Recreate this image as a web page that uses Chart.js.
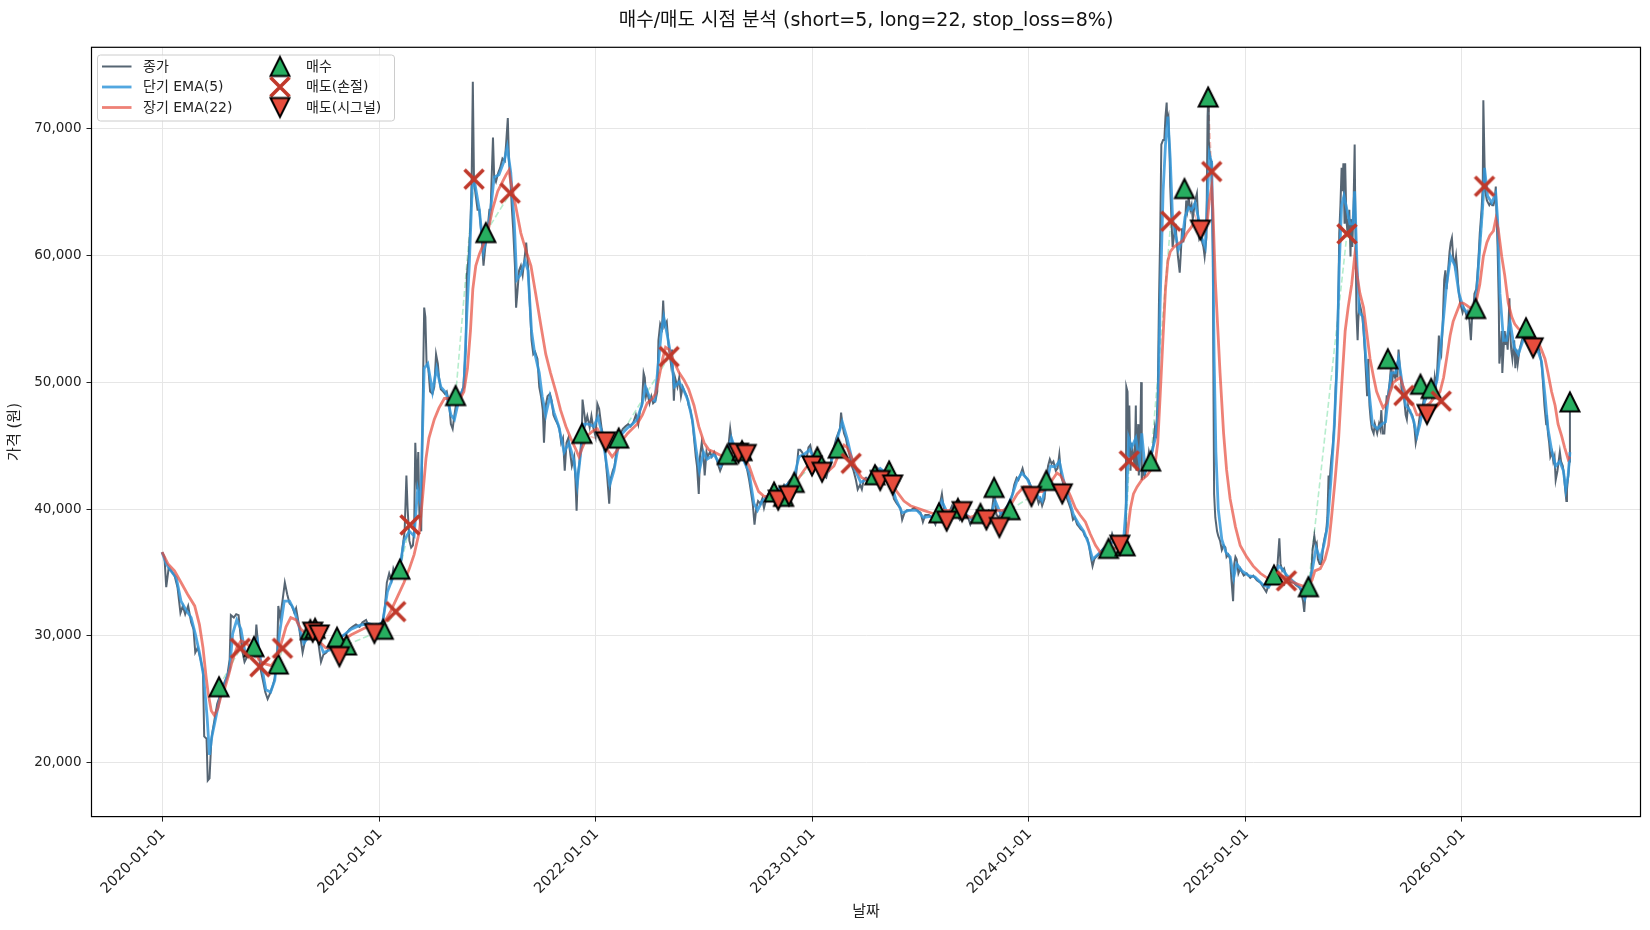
<!DOCTYPE html>
<html><head><meta charset="utf-8">
<script src="https://cdn.jsdelivr.net/npm/chart.js@4.4.1/dist/chart.umd.min.js"></script>
<style>html,body{margin:0;padding:0;background:#fff;}#wrap{width:1650px;height:930px;}</style>
</head><body><div id="wrap"><canvas id="c" width="1650" height="930"></canvas></div>
<script>
// ---- DATA (x = days since 2020-01-01) ----
const closeDays = [
0,4,7,11,16,21,26,31,35,39, 44,49,53,56,60,65,69,71,75,77, 80,83,85,89,93,97,101,105,110,114,
116,121,125,129,132,135,139,143,147,151, 156,159,162,166,170,174,178,183,187,190, 194,196,199,203,207,211,215,219,223,226,
230,233,237,241,245,250,254,259,263,268, 272,277,282,288,293,299,304,310,316,321, 327,333,338,344,349,355,361,366,372,376,
379,383,387,390,394,398,403,406,409,412, 414,417,420,423,425,427,430,432,434,437, 439,442,444,446,449,452,456,459,462,465,
467,470,474,477,480,484,487,490,493,496, 499,504,508,512,514,517,520,522,524,526, 529,532,535,539,542,545,549,552,554,558,
560,563,567,570,574,578,580,583,585,587, 590,592,595,597,599,602,605,608,612,614, 617,620,623,626,629,633,636,639,642,644,
647,650,654,657,660,663,667,670,673,676, 679,682,685,688,691,695,697,699,701,705, 708,709,712,714,717,721,724,727,731,734,
737,741,744,747,751,754,756,760,763,767, 770,773,777,781,786,790,795,799,803,806, 809,812,814,816,818,822,825,828,832,835,
837,840,843,845,847,851,854,858,860,863, 865,869,872,875,878,881,885,888,891,895, 897,900,902,905,907,910,913,915,918,920,
924,927,931,934,937,941,944,947,951,954, 958,960,963,967,970,973,977,980,983,987, 990,993,996,999,1002,1005,1009,1012,1015,1019,
1022,1025,1029,1032,1036,1039,1042,1046,1049,1052, 1056,1059,1063,1066,1069,1073,1076,1079,1083,1086, 1090,1093,1096,1100,1103,1106,1110,1113,1116,1120,
1123,1127,1130,1133,1137,1140,1143,1145,1147,1150, 1153,1156,1160,1163,1166,1170,1173,1177,1180,1183, 1187,1190,1195,1203,1211,1220,1228,1234,1239,1245,
1248,1252,1256,1262,1268,1273,1279,1283,1287,1293, 1298,1304,1307,1311,1315,1318,1323,1327,1332,1336, 1341,1345,1350,1354,1359,1363,1368,1372,1377,1381,
1385,1390,1394,1399,1403,1407,1411,1416,1420,1425, 1429,1434,1437,1441,1444,1447,1451,1454,1457,1461, 1464,1467,1471,1474,1478,1481,1484,1488,1491,1494,
1497,1500,1503,1507,1510,1513,1516,1519,1523,1526, 1529,1533,1536,1539,1543,1546,1549,1553,1556,1560, 1563,1566,1569,1572,1575,1579,1582,1585,1589,1592,
1596,1599,1602,1606,1609,1612,1616,1619,1622,1625, 1626,1628,1630,1631,1633,1635,1638,1640,1642,1643, 1646,1647,1649,1651,1652,1655,1657,1661,1664,1667,
1671,1674,1676,1679,1681,1683,1685,1688,1690,1692, 1694,1695,1697,1699,1700,1702,1704,1707,1709,1711, 1713,1716,1718,1720,1722,1725,1727,1729,1731,1734,
1736,1738,1740,1743,1745,1747,1749,1752,1754,1756, 1758,1761,1763,1764,1765,1767,1769,1770,1772,1773, 1774,1776,1779,1781,1784,1787,1790,1793,1795,1798,
1801,1803,1806,1808,1810,1812,1815,1818,1824,1829, 1835,1840,1846,1852,1857,1862,1866,1870,1874,1879, 1881,1884,1886,1889,1892,1895,1899,1903,1908,1912,
1917,1920,1924,1926,1928,1931,1935,1938,1940,1943, 1945,1947,1949,1952,1954,1956,1958,1961,1963,1965, 1967,1968,1970,1972,1974,1975,1977,1979,1980,1982,
1984,1985,1987,1989,1990,1992,1994,1995,1997,1999, 2000,2002,2004,2005,2007,2009,2011,2012,2014,2016, 2017,2019,2021,2024,2026,2028,2030,2032,2034,2036,
2038,2040,2043,2045,2047,2049,2052,2054,2056,2058, 2061,2063,2065,2067,2070,2072,2074,2076,2079,2081, 2083,2085,2088,2090,2092,2094,2097,2099,2101,2103,
2105,2108,2110,2112,2114,2117,2119,2121,2123,2126, 2128,2130,2132,2135,2137,2139,2141,2144,2146,2148, 2150,2153,2155,2157,2159,2162,2164,2166,2168,2171,
2173,2175,2177,2180,2182,2184,2186,2189,2191,2193, 2195,2198,2200,2202,2204,2207,2209,2211,2213,2216, 2218,2220,2222,2225,2227,2228,2230,2231,2234,2236,
2238,2240,2243,2245,2247,2249,2250,2252,2254,2255, 2257,2259,2260,2262,2264,2266,2267,2269,2272,2273, 2275,2277,2280,2282,2284,2286,2289,2291,2293,2295,
2298,2300,2302,2304,2307,2309,2311,2313,2316,2318, 2320,2322,2325,2327,2329,2331,2334,2335,2337,2339, 2341,2344,2346,2348,2350,2353,2355,2357,2359,2362,
2364,2366,2368,2369,2372,2373,2374
];
const closePrices = [
36600,36230,33840,35310,35100,34760,33840,31820,32370,31710, 32370,31090,30540,28700,29070,28150,27230,22090,21910,18610, 18790,21730,22460,23560,24660,25210,25760,26320,26870,28150,
31640,31450,31710,31640,30170,28880,27960,28330,28520,29070, 28520,30900,29250,27420,26500,25580,25030,25580,26130,26680, 28330,32370,31450,32740,34210,33290,32560,32370,31820,32190,
31090,29990,28700,29620,29990,30350,30720,30540,29620,27960, 28520,28700,29070,29430,29800,29620,29990,30170,30540,30720, 30900,30720,31090,31270,30720,30720,30900,30720,31090,32370,
34210,34940,34390,35310,34760,34940,35860,37140,38250,42650, 40080,37510,36960,37140,38250,45220,41550,44490,39340,38250, 46690,55870,55130,51460,51090,49260,49080,49630,52200,51460,
50360,49440,49260,49080,49260,48340,46690,46320,47420,48340, 48890,49080,49630,52560,58430,59900,62470,65780,73670,65780, 64680,63580,63580,61370,59170,60640,62110,63580,63580,69270,
66140,65780,66510,66880,67620,67430,68700,70800,67400,66200, 63580,62110,59170,55870,56970,58800,59170,58430,60080,61000, 59170,56230,53300,52200,52380,51830,49630,48890,47790,45220,
48160,48890,49080,48530,47420,47060,46690,46320,45220,45590, 43020,45220,45590,44490,43390,44120,42290,39860,42650,44120, 46440,48630,47510,46770,47330,46440,47330,46440,45700,48280,
47900,46440,45700,44490,42290,40420,42290,43020,43390,44860, 45590,45960,46320,46510,46690,46510,46870,47420,46690,47790, 48160,50720,50360,48890,49260,48340,48890,48340,48530,49260,
53300,54580,54220,56420,54400,54770,52930,51460,52560,48530, 50360,49630,50360,48890,49630,49260,48890,48160,47790,46690, 45590,44120,43390,41190,44120,45220,44120,42650,44490,44120,
44490,44120,44490,44120,43570,43020,43390,43750,44120,44490, 46320,45590,44860,44490,44120,43930,44120,43930,43750,43020, 42290,41370,40420,38770,40080,40630,40420,40810,40080,40810,
41190,41370,41190,41550,41370,41550,41740,41550,41920,41740, 42100,42290,42470,42290,42650,44670,44670,44490,44120,43750, 44860,45040,44300,43750,43390,43570,43390,43020,42650,42470,
43020,43390,44490,44860,45590,45960,46320,47600,46690,45960, 45590,44860,44120,43390,43020,42290,41550,41920,41550,42290, 42470,42290,42650,43390,43020,42650,42290,40810,40420,40080,
39160,39710,39900,39900,40080,39900,39710,38980,39530,39530, 39340,38790,39340,40260,41190,40080,39340,39710,40260,39900, 39530,39160,39530,39710,39340,38790,39340,39710,39900,39530,
39340,39710,39900,39710,41370,39530,39340,39710,39900,40260, 40450,41190,41920,42470,42290,42650,43200,42650,42470,42290, 41920,41190,41550,41190,40450,40810,40260,40810,42290,43390,
43930,43570,43750,43020,43200,44300,42650,42100,41370,40810, 40450,39900,39160,39340,38790,38610,38430,38250,37880,37700, 37140,36230,35500,36050,36230,36420,36590,36780,36970,37140,
37140,37510,38050,37510,37330,37510,37330,37510,37140,37880, 49630,49260,44120,48160,43020,45220,44120,43390,48160,43020, 46690,42650,44490,50000,42290,43020,42650,43390,44490,43750,
44860,46320,45590,48890,56230,61370,68720,69080,69080,70920, 72020,70550,70920,67980,65410,62840,60640,61740,62470,61000, 59900,58620,60270,62110,61000,62470,64310,63580,64490,63580,
63940,62840,63580,64490,64860,62840,61370,61740,61000,60640, 59900,61370,70920,72460,69080,67620,67430,65410,59900,48890, 41190,39340,38250,37880,37510,36780,37140,36970,36230,36420,
36050,34580,32740,35680,36230,36050,34940,35310,34760,34940, 34580,34760,34390,34210,33840,33470,34020,34390,34760,34940, 35680,37700,35680,35130,35310,34760,34580,34210,34210,34020,
33840,33660,32740,31900,33290,33470,34210,34940,36780,37880, 37140,37330,36050,35680,35680,36050,37140,37880,38250,39340, 42650,41550,43020,44120,44860,45590,46690,49630,50360,54030,
58060,61740,63940,66880,65040,67250,62470,67250,62840,61740, 62470,63580,59900,62840,60640,63580,68720,63580,55500,53300, 54770,56230,55870,55130,54030,52560,50720,48890,51830,48160,
47060,46320,45960,46690,46320,45960,46690,46320,47790,45960, 45960,47420,48890,48890,49970,51090,49970,50720,50360,51090, 50360,52560,50720,49630,48890,48890,47420,47060,48160,47790,
47600,47420,47060,46320,45220,45960,46690,47420,47790,48160, 48890,49260,48890,49630,49260,49630,48890,49260,50360,49630, 50720,53670,52560,52200,54030,58060,58800,57330,58430,60270,
61000,61370,59900,59170,59900,58800,57330,56230,55870,55500, 55870,55500,55130,55500,55130,53300,55130,55500,56970,57330, 58430,59900,61740,63580,65410,72200,67250,65040,64310,64120,
63940,64120,63940,63940,64310,65410,63580,60640,56230,51460, 52560,54030,50720,52560,54030,52930,53670,52560,56600,54030, 52560,51830,53300,51090,52560,51460,52560,52930,53300,53670,
53480,53850,53480,53670,53300,53110,52930,52560,52930,52560, 52930,52560,51830,51090,49630,48160,46690,47420,45960,45220, 44120,44490,43750,44120,42290,43020,43750,44490,43750,43390,
42650,41550,40630,41550,43020,43750,48440
];
const emaShortDays = [
0,7,15,24,32,41,49,56,63,70, 76,80,84,89,97,105,114,119,126,133, 140,147,156,161,168,175,183,190,198,206,
215,223,231,239,248,258,265,272,282,293, 304,319,333,347,361,372,380,389,400,408, 417,425,431,436,442,448,456,463,470,479,
487,493,501,509,514,518,523,527,535,542, 549,554,560,568,577,582,588,594,598,604, 612,617,623,628,636,641,647,654,661,669,
678,686,694,700,706,712,720,728,735,742, 750,755,762,769,776,785,793,801,810,815, 823,831,836,842,846,852,859,864,872,879,
887,894,900,906,913,919,931,942,953,960, 967,978,990,998,1004,1012,1020,1032,1043,1054, 1065,1074,1082,1092,1102,1113,1124,1133,1141,1147,
1155,1166,1178,1189,1200,1211,1225,1237,1248,1259, 1273,1284,1296,1307,1315,1324,1335,1346,1357,1366, 1377,1388,1400,1405,1414,1425,1433,1442,1450,1459,
1467,1475,1484,1491,1498,1506,1513,1520,1529,1537, 1546,1554,1562,1569,1576,1588,1599,1610,1621,1626, 1630,1635,1642,1648,1652,1658,1666,1675,1679,1683,
1688,1692,1696,1700,1704,1709,1714,1720,1725,1731, 1736,1742,1748,1753,1759,1763,1766,1770,1772,1774, 1777,1781,1787,1794,1801,1807,1812,1821,1832,1843,
1857,1866,1874,1883,1888,1897,1908,1919,1927,1933, 1940,1946,1953,1959,1965,1971,1976,1981,1985,1989, 1993,1998,2003,2008,2011,2015,2019,2025,2030,2036,
2041,2049,2057,2063,2068,2073,2080,2085,2091,2097, 2104,2111,2116,2121,2128,2135,2144,2150,2155,2161, 2166,2173,2180,2187,2194,2203,2210,2217,2222,2227,
2230,2235,2242,2249,2252,2256,2262,2267,2273,2280, 2287,2295,2307,2318,2326,2332,2337,2343,2350,2357, 2363,2367,2371,2374
];
const emaShortValues = [
36600,35680,35130,34580,32740,32000,31450,30170,28700,26870, 23560,20630,22090,23190,25030,26130,27420,30170,31270,30540, 28700,28520,28880,29620,27600,25760,25580,26500,30170,32740,
32740,32000,30720,29430,29990,30540,29620,28700,28880,29620, 29990,30540,30830,30980,30790,31090,33480,34580,35130,37510, 38250,37880,41550,40450,51090,51460,49260,51090,49630,49150,
47420,47060,48710,49630,55500,59170,65410,65780,63580,60270, 61740,63580,66140,66330,67430,68530,66510,62470,58060,58430, 59540,58800,54030,52380,50730,48890,47420,48890,47600,46510,
44490,45220,43930,41920,44490,46690,46690,46510,47240,45960, 43390,41920,43020,44860,45960,46400,46690,47060,48340,49630, 48710,48530,51090,54030,55130,53670,51830,49630,50000,49440,
48530,47060,44860,43020,44490,43930,44300,43390,44300,45590, 44670,44120,42840,40450,39900,40630,41000,41370,41620,41920, 42360,44120,44300,44670,43750,43200,43020,44490,45960,46870,
45590,43390,42100,42360,42500,43200,42650,40810,39710,39900, 39900,39340,39420,39270,40630,39710,39970,39420,39530,39160, 39710,39530,39900,40630,39640,40150,41000,42290,42840,42360,
41550,41110,40630,41920,43390,43320,43750,42290,40810,39530, 38790,38250,37330,36050,36340,36850,37330,37510,37330,40450, 45590,44860,45590,43750,45960,43020,43940,45590,47420,56230,
65040,68720,70920,67620,62840,61560,60460,61190,63030,63760, 63580,64120,62840,61370,60640,64680,67980,67250,61000,52000, 44500,40000,37600,36590,36230,34580,35680,35130,34760,34650,
34020,33840,34580,35500,35310,34760,34280,33840,32920,33840, 35310,36960,36050,37140,38610,42290,45960,51090,59170,63940, 64680,63580,62470,62470,65040,59170,55500,55130,51830,48890,
46690,46320,46690,46870,48890,50730,50730,51830,49970,48160, 47790,46870,45770,46690,48340,49260,49260,50180,52200,55130, 57700,59900,59170,56970,55870,55320,55130,57330,60640,63940,
66880,64680,64130,64860,62840,56970,53300,53300,54770,52750, 52200,53300,53480,52750,51640,48890,46320,44670,43390,43750, 43020,41550,42650,44490
];
const emaLongDays = [
0,10,21,32,43,55,63,69,74,78, 83,88,94,99,105,112,119,126,133,142, 150,158,167,175,184,192,201,209,217,226,
234,243,251,260,268,276,285,296,307,319, 330,341,352,363,375,386,397,408,417,425, 434,439,445,450,459,467,476,484,493,501,
509,515,520,524,529,535,540,549,557,566, 574,580,585,588,596,605,613,622,630,639, 647,655,664,672,681,689,698,703,709,717,
726,734,742,751,759,768,776,785,793,801, 810,818,827,832,838,844,849,855,863,872, 880,888,897,905,914,922,931,939,947,956,
964,973,981,990,998,1006,1015,1023,1032,1040, 1049,1057,1065,1074,1082,1091,1099,1107,1116,1124, 1133,1141,1150,1155,1164,1172,1180,1189,1200,1211,
1228,1239,1251,1262,1273,1284,1296,1307,1318,1329, 1341,1352,1363,1374,1385,1397,1408,1419,1430,1442, 1453,1464,1475,1484,1492,1501,1509,1515,1523,1532,
1540,1548,1557,1565,1574,1582,1590,1599,1610,1621, 1627,1633,1638,1644,1652,1661,1669,1675,1679,1683, 1688,1692,1696,1700,1706,1711,1717,1722,1728,1734,
1739,1745,1751,1756,1762,1766,1770,1772,1776,1780, 1784,1790,1795,1801,1810,1818,1829,1840,1852,1863, 1874,1885,1897,1908,1919,1930,1939,1944,1953,1961,
1967,1972,1978,1984,1989,1995,2000,2006,2011,2015, 2020,2026,2031,2037,2043,2048,2054,2059,2065,2071, 2076,2082,2088,2093,2099,2104,2110,2116,2121,2127,
2132,2138,2144,2149,2155,2161,2166,2172,2177,2183, 2189,2194,2200,2205,2211,2217,2222,2228,2234,2239, 2245,2249,2253,2259,2264,2270,2276,2281,2287,2293,
2298,2304,2309,2315,2321,2326,2332,2337,2343,2349, 2354,2360,2365,2371,2374
];
const emaLongValues = [
36600,35680,35130,34210,33290,32370,30900,29070,26870,25400, 24110,23750,24290,25210,25760,26870,28150,29070,29620,29430, 29070,28520,27960,27780,27670,28150,29430,30720,31450,31270,
30540,30170,29990,29800,29430,29070,29070,29360,29730,30100, 30350,30610,30720,30720,31090,32000,33100,34210,35310,36410, 38250,40770,43970,45590,47060,47970,48710,48710,48340,48530,
49260,51090,54030,57330,59170,60080,60640,61740,63580,65040, 65780,66330,66700,65780,63940,61740,60460,59170,56970,54400, 52200,50730,49260,47790,46510,45590,44670,44120,44860,45770,
46140,46320,45590,44670,44120,44670,45400,45960,46320,46690, 47420,48340,48710,49080,50360,51830,52750,52560,51640,50730, 50180,49440,48160,46510,45220,44670,44490,44300,44120,44300,
44490,44410,44120,43390,42290,41370,41000,41000,41190,41370, 41550,41740,41920,42470,43020,43570,43750,43570,43200,43020, 43390,44300,45040,44860,43930,43020,42470,42290,42470,42470,
42100,41370,40630,40260,40080,39900,39710,39530,39900,39900, 39710,39530,39340,39530,39530,39640,39900,39900,40260,41190, 41740,41740,41370,41370,41740,42290,42840,42650,41920,41000,
40080,39530,38980,38050,37140,36590,36590,36780,36960,37140, 37880,40080,41190,41740,42290,42650,43200,43750,45220,48890, 53670,57330,59540,60270,60640,60820,61000,61190,61740,62110,
62470,62470,62110,61740,62470,64310,65410,63580,58060,54400, 50730,45960,43100,40800,38600,37140,36230,35500,34940,34580, 34390,34760,34580,34210,34020,33840,34390,35130,35310,36050,
37140,39340,42290,45590,49630,54030,55870,57700,59900,58430, 56970,55870,54030,51830,50360,49260,48530,47970,48340,49260, 49970,50180,50360,49630,48890,48340,48160,47420,47420,47790,
48160,48340,48710,48890,49260,50360,51830,53670,54770,55500, 56230,56230,56050,55870,55870,56600,57700,59900,61000,61560, 61920,62840,62110,59900,58430,56230,55130,54580,54220,54030,
53850,53670,53480,53300,53110,52560,51830,50720,49260,48160, 46690,45770,44860,43930,44120
];
const buyDays   = [96,155,196,250,258,295,311,373,401,495,546,708,770,953,978,1032,1048,1066,1105,1140,1202,1226,1310,1342,1380,1403,1430,1491,1596,1624,1667,1724,1764,1875,1933,2067,2122,2140,2215,2300,2374];
const buyPrices = [26000,29160,27790,30500,30600,29900,29290,30530,35260,48940,61780,45960,45590,44300,44600,41340,41000,42100,44100,44800,42700,43000,39700,40050,39650,41700,39950,42250,36900,37100,43780,65250,72460,34800,33880,51840,49830,49500,55800,54280,48440];
const stopDays   = [132,165,203,394,418,526,587,855,1162,1631,1701,1770,1896,1998,2094,2157,2230];
const stopPrices = [29030,27580,29030,31920,38750,65990,64890,52010,43600,43800,62680,66590,34350,61680,48950,48500,65430];
const signalDays   = [254,265,299,358,748,972,985,1039,1057,1096,1113,1211,1232,1323,1349,1390,1412,1466,1518,1615,1751,2133,2312];
const signalPrices = [30300,30080,28370,30210,45290,44400,44300,40700,41050,43400,42900,42250,41900,39050,39800,39150,38550,40990,41200,37150,61980,47450,52700];
const yearTickDays   = [0,366,731,1096,1461,1827,2192];
const yearTickLabels = ['2020-01-01','2021-01-01','2022-01-01','2023-01-01','2024-01-01','2025-01-01','2026-01-01'];
const priceTicks = [20000,30000,40000,50000,60000,70000];

// ---- styling ----
const FONT = "'DejaVu Sans','Noto Sans CJK KR',sans-serif";
Chart.defaults.font.family = FONT;
const C_CLOSE = 'rgba(44,62,80,0.8)';
const C_SHORT = 'rgba(52,152,219,0.85)';
const C_LONG = 'rgba(231,76,60,0.7)';
const C_WIN = 'rgba(46,204,113,0.35)';
const C_LOSS = 'rgba(231,76,60,0.35)';

function makeTri(fill, down) {
  const c = document.createElement('canvas'); c.width = 26; c.height = 26;
  const g = c.getContext('2d'); const h = 9.5, cx = 13, cy = 13;
  g.beginPath();
  if (!down) { g.moveTo(cx, cy - h); g.lineTo(cx - h, cy + h); g.lineTo(cx + h, cy + h); }
  else { g.moveTo(cx, cy + h); g.lineTo(cx - h, cy - h); g.lineTo(cx + h, cy - h); }
  g.closePath(); g.fillStyle = fill; g.fill();
  g.lineWidth = 2; g.lineJoin = 'miter'; g.strokeStyle = '#000'; g.stroke();
  return c;
}
function makeX() {
  const c = document.createElement('canvas'); c.width = 26; c.height = 26;
  const g = c.getContext('2d'); const h = 9.5;
  g.strokeStyle = '#c0392b'; g.lineWidth = 3.6; g.lineCap = 'butt';
  g.beginPath(); g.moveTo(13 - h, 13 - h); g.lineTo(13 + h, 13 + h);
  g.moveTo(13 + h, 13 - h); g.lineTo(13 - h, 13 + h); g.stroke();
  return c;
}
const buyIcon = makeTri('#27ae60', false);
const sellIcon = makeTri('#e74c3c', true);
const stopIcon = makeX();

const toPts = (xs, ys) => xs.map((x, i) => ({x: x, y: ys[i]}));

// trade connectors: each buy to the next sell
const sells = stopDays.map((d, i) => ({d: d, p: stopPrices[i]}))
  .concat(signalDays.map((d, i) => ({d: d, p: signalPrices[i]})))
  .sort((a, b) => a.d - b.d);
const tradePts = [];
buyDays.forEach((d, i) => {
  const s = sells.find(t => t.d > d);
  if (!s) return;
  tradePts.push({x: d, y: buyPrices[i]}, {x: s.d, y: s.p}, {x: s.d, y: null});
});

const framePlugin = {
  id: 'frame',
  afterDatasetsDraw(chart) {
    const {ctx, chartArea: a} = chart;
    ctx.save(); ctx.strokeStyle = '#000'; ctx.lineWidth = 1.2;
    ctx.strokeRect(a.left, a.top, a.right - a.left, a.bottom - a.top);
    ctx.restore();
  }
};
const legendPlugin = {
  id: 'insideLegend',
  afterDraw(chart) {
    const ctx = chart.ctx;
    ctx.save();
    const bx = 97.5, by = 55, bw = 297, bh = 66, r = 3;
    ctx.beginPath();
    ctx.moveTo(bx + r, by); ctx.lineTo(bx + bw - r, by); ctx.quadraticCurveTo(bx + bw, by, bx + bw, by + r);
    ctx.lineTo(bx + bw, by + bh - r); ctx.quadraticCurveTo(bx + bw, by + bh, bx + bw - r, by + bh);
    ctx.lineTo(bx + r, by + bh); ctx.quadraticCurveTo(bx, by + bh, bx, by + bh - r);
    ctx.lineTo(bx, by + r); ctx.quadraticCurveTo(bx, by, bx + r, by); ctx.closePath();
    ctx.fillStyle = 'rgba(255,255,255,0.8)'; ctx.fill();
    ctx.strokeStyle = '#cccccc'; ctx.lineWidth = 1; ctx.stroke();
    const rows = [66.5, 87, 107.5];
    const lineItems = [['종가', C_CLOSE, 2], ['단기 EMA(5)', C_SHORT, 2.8], ['장기 EMA(22)', C_LONG, 2.8]];
    const markItems = [['매수', buyIcon], ['매도(손절)', stopIcon], ['매도(시그널)', sellIcon]];
    ctx.font = '14px ' + FONT; ctx.textBaseline = 'middle'; ctx.fillStyle = '#222';
    lineItems.forEach((it, i) => {
      ctx.strokeStyle = it[1]; ctx.lineWidth = it[2];
      ctx.beginPath(); ctx.moveTo(102, rows[i]); ctx.lineTo(131.5, rows[i]); ctx.stroke();
      ctx.fillStyle = '#222'; ctx.fillText(it[0], 143, rows[i] + 0.5);
    });
    markItems.forEach((it, i) => {
      const ic = it[1];
      ctx.drawImage(ic, 280 - ic.width / 2, rows[i] - ic.height / 2);
      ctx.fillStyle = '#222'; ctx.fillText(it[0], 306, rows[i] + 0.5);
    });
    ctx.restore();
  }
};

const gridOpts = {color: '#e6e6e6', lineWidth: 1, drawTicks: true, tickLength: 5, tickColor: '#222', tickWidth: 1};

new Chart(document.getElementById('c'), {
  type: 'line',
  data: {
    datasets: [
      {label: '매도(시그널)', data: toPts(signalDays, signalPrices), showLine: false, pointStyle: sellIcon, pointRadius: 10, pointHoverRadius: 10, order: 0},
      {label: '매도(손절)', data: toPts(stopDays, stopPrices), showLine: false, pointStyle: stopIcon, pointRadius: 10, pointHoverRadius: 10, order: 1},
      {label: '매수', data: toPts(buyDays, buyPrices), showLine: false, pointStyle: buyIcon, pointRadius: 10, pointHoverRadius: 10, order: 2},
      {label: 'trades', data: tradePts, borderDash: [6, 3], borderWidth: 1.6, pointRadius: 0, spanGaps: false,
       borderColor: C_WIN, segment: {borderColor: c => (c.p1.parsed.y >= c.p0.parsed.y ? C_WIN : C_LOSS)}, order: 7},
      {label: '장기 EMA(22)', data: toPts(emaLongDays, emaLongValues), borderColor: C_LONG, borderWidth: 2.8, pointRadius: 0, order: 4},
      {label: '단기 EMA(5)', data: toPts(emaShortDays, emaShortValues), borderColor: C_SHORT, borderWidth: 2.8, pointRadius: 0, order: 5},
      {label: '종가', data: toPts(closeDays, closePrices), borderColor: C_CLOSE, borderWidth: 2, pointRadius: 0, order: 6}
    ]
  },
  options: {
    responsive: false, animation: false, devicePixelRatio: 1, events: [],
    layout: {padding: {left: 0, right: 9.5, top: 0, bottom: 0}, autoPadding: false},
    elements: {line: {tension: 0}},
    plugins: {
      legend: {display: false}, tooltip: {enabled: false},
      title: {display: true, fullSize: false, text: '매수/매도 시점 분석 (short=5, long=22, stop_loss=8%)',
              color: '#111', font: {size: 19, weight: 'normal', family: FONT}, padding: {top: 9.5, bottom: 15}}
    },
    scales: {
      x: {
        type: 'linear', min: -119, max: 2493,
        afterBuildTicks: s => { s.ticks = yearTickDays.map(v => ({value: v})); },
        afterFit: s => { s.height = 113.4; },
        grid: gridOpts, border: {display: false},
        ticks: {autoSkip: false, maxRotation: 45, minRotation: 45, padding: 4, labelOffset: 1, color: '#222', font: {size: 14.5},
                callback: v => { const i = yearTickDays.indexOf(v); return i >= 0 ? yearTickLabels[i] : ''; }},
        title: {display: true, text: '날짜', color: '#222', font: {size: 15}, padding: {top: 0, bottom: 9}}
      },
      y: {
        min: 15770, max: 76380,
        afterBuildTicks: s => { s.ticks = priceTicks.map(v => ({value: v})); },
        afterFit: s => { s.width = 91.5; },
        grid: gridOpts, border: {display: false},
        ticks: {padding: 5, color: '#222', font: {size: 13.5}, callback: v => v.toLocaleString('en-US')},
        title: {display: true, text: '가격 (원)', color: '#222', font: {size: 15}, padding: {top: 6, bottom: 0}}
      }
    }
  },
  plugins: [framePlugin, legendPlugin]
});
</script></body></html>
